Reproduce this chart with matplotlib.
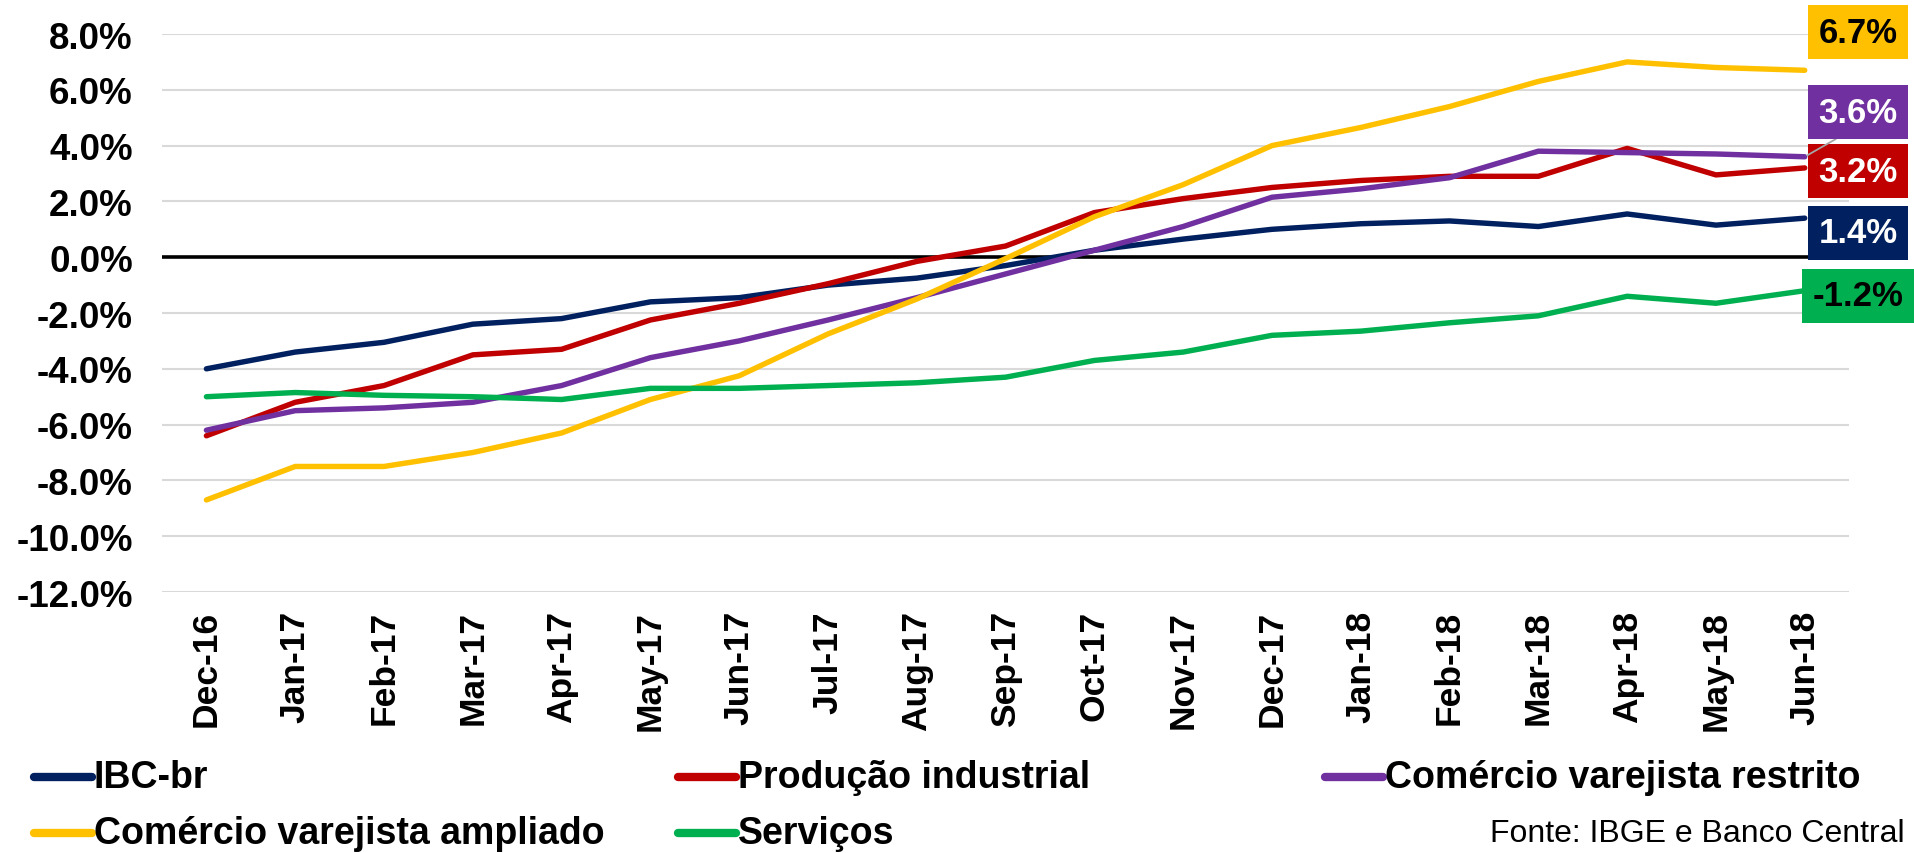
import numpy as np
import matplotlib
matplotlib.use("Agg")
import matplotlib.pyplot as plt
from matplotlib.lines import Line2D

plt.rcParams['font.family'] = ['Liberation Sans', 'DejaVu Sans']

months = ["Dec-16", "Jan-17", "Feb-17", "Mar-17", "Apr-17", "May-17", "Jun-17",
          "Jul-17", "Aug-17", "Sep-17", "Oct-17", "Nov-17", "Dec-17", "Jan-18",
          "Feb-18", "Mar-18", "Apr-18", "May-18", "Jun-18"]

ibc_br = [-4.0, -3.4, -3.05, -2.4, -2.2, -1.6, -1.45, -1.0, -0.75, -0.3, 0.25,
          0.65, 1.0, 1.2, 1.3, 1.1, 1.55, 1.15, 1.4]
producao = [-6.4, -5.2, -4.6, -3.5, -3.3, -2.25, -1.65, -0.95, -0.15, 0.4, 1.6,
            2.1, 2.5, 2.75, 2.9, 2.9, 3.9, 2.95, 3.2]
restrito = [-6.2, -5.5, -5.4, -5.2, -4.6, -3.6, -3.0, -2.25, -1.45, -0.6, 0.25,
            1.1, 2.15, 2.45, 2.85, 3.8, 3.75, 3.7, 3.6]
ampliado = [-8.7, -7.5, -7.5, -7.0, -6.3, -5.1, -4.25, -2.75, -1.5, -0.05, 1.45,
            2.6, 4.0, 4.65, 5.4, 6.3, 7.0, 6.8, 6.7]
servicos = [-5.0, -4.85, -4.95, -5.0, -5.1, -4.7, -4.7, -4.6, -4.5, -4.3, -3.7,
            -3.4, -2.8, -2.65, -2.35, -2.1, -1.4, -1.65, -1.2]

names = ["IBC-br", "Produção industrial", "Comércio varejista restrito",
         "Comércio varejista ampliado", "Serviços"]
series = [ibc_br, producao, restrito, ampliado, servicos]
colors = ["#002060", "#C00000", "#7030A0", "#FFC000", "#00B050"]
label_text_colors = ["white", "white", "white", "black", "black"]
label_y = [0.88, 3.08, 5.2, 8.06, -1.38]
legend_pos = [(0, 0), (1, 0), (2, 0), (0, 1), (1, 1)]

fig = plt.figure(figsize=(19.15, 8.54), dpi=100)
ax = fig.add_axes([0.0846, 0.3056, 0.881, 0.6534])

x = np.arange(len(months))
for vals, c in zip(series, colors):
    ax.plot(x, vals, color=c, lw=3.9, solid_capstyle='round', zorder=3)

ax.axhline(0, color='black', lw=2.6, zorder=2)
ax.set_xlim(-0.5, len(months) - 0.5)
ax.set_ylim(-12, 8)
ax.set_yticks(np.arange(-12, 8.1, 2))
ax.set_yticklabels([f"{v:.1f}%" for v in np.arange(-12, 8.1, 2)],
                   fontsize=26.5, fontweight='bold')
ax.set_xticks(x)
ax.set_xticklabels(months, rotation=90, fontsize=25.5, fontweight='bold')
ax.tick_params(length=0)
ax.tick_params(axis='y', pad=21)
ax.tick_params(axis='x', pad=13)
ax.grid(axis='y', color='#d9d9d9', lw=1.5, zorder=0)
for s in ax.spines.values():
    s.set_visible(False)

# end labels
for vals, c, tc, ly in zip(series, colors, label_text_colors, label_y):
    props = None
    if c == "#7030A0":
        props = dict(arrowstyle='-', color='#a6a6a6', lw=1.3, shrinkA=0, shrinkB=2,
                     relpos=(0.45, 0.0))
    ax.annotate(f"{vals[-1]:.1f}%", xy=(x[-1], vals[-1]), xytext=(18.6, ly),
                textcoords='data', ha='center', va='center', fontsize=25,
                fontweight='bold', color=tc, annotation_clip=False,
                bbox=dict(boxstyle='square,pad=0.3', fc=c, ec='none'),
                arrowprops=props, zorder=5)

# legend
col_x = [34, 678, 1325]
row_y = [778, 834]
W, H = 1915, 854
for name, c, (ci, ri) in zip(names, colors, legend_pos):
    x0 = col_x[ci] / W
    y0 = 1 - row_y[ri] / H
    fig.add_artist(Line2D([x0, x0 + 58 / W], [y0, y0], color=c, lw=6,
                          solid_capstyle='round', transform=fig.transFigure))
    fig.text(x0 + 60 / W, y0, name, ha='left', va='center', fontsize=27,
             fontweight='bold')

fig.text(1905 / W, 1 - 834 / H, "Fonte: IBGE e Banco Central", ha='right',
         va='center', fontsize=23)

fig.savefig("out.png", dpi=100)
